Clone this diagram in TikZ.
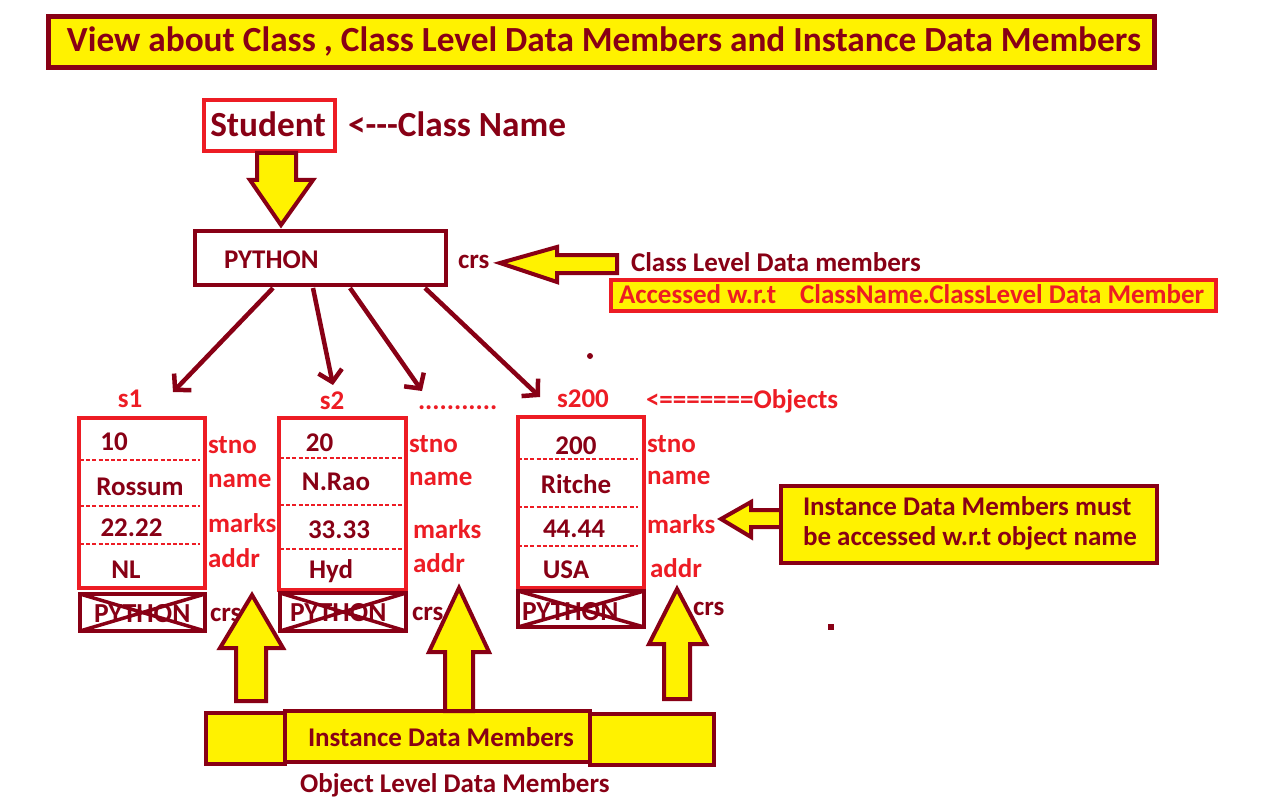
\documentclass[tikz,border=0pt]{standalone}
\usepackage{fontspec}
\setmainfont{Carlito}
\usetikzlibrary{arrows.meta}
\definecolor{dred}{RGB}{136,0,21}
\definecolor{pred}{RGB}{237,28,36}
\definecolor{pyel}{RGB}{255,242,0}
\begin{document}
\begin{tikzpicture}[x=1pt,y=-1pt,
  every node/.style={inner sep=0pt,outer sep=0pt},
  lbl/.style={font=\bfseries\fontsize{27}{30}\selectfont,text=dred,anchor=base west},
  rlbl/.style={lbl,text=pred},
  biglbl/.style={lbl,font=\bfseries\fontsize{35.3}{40}\selectfont},
  xlbl/.style={lbl,font=\bfseries\fontsize{27.5}{30}\selectfont},
  rbox/.style={draw=pred,line width=4pt},
  dbox/.style={draw=dred,line width=4pt},
  ybox/.style={dbox,fill=pyel},
  blockarrow/.style={draw=dred,line width=4pt,fill=pyel,line join=miter},
  link/.style={draw=dred,line width=4.5pt,-{Straight Barb[length=11pt,width=24pt]}},
  sepline/.style={draw=pred,line width=2.8pt,dash pattern=on 4pt off 2.2pt},
  crossline/.style={draw=dred,line width=3.5pt},
]
\useasboundingbox[fill=white] (0,0) rectangle (1271,805);

% title
\node[ybox,line width=5pt,minimum width=1106pt,minimum height=51pt] (title) at (601.5,42) {};
\node[biglbl,anchor=base] (titletxt) at (604,52) {View about Class , Class Level Data Members and Instance Data Members};

% class name
\node[rbox,minimum width=131pt,minimum height=51pt] (student) at (269.5,125.5) {};
\node[biglbl,anchor=base] (studenttxt) at (268,137) {Student};
\node[biglbl] (cname) at (348,137) {<{-}{-}{-}Class Name};

\draw[blockarrow] (257,153) -- (296,153) -- (296,180) -- (313,180) -- (281,225) -- (250,180) -- (257,180) -- cycle;

% class level box
\node[dbox,minimum width=251pt,minimum height=54pt] (pybox) at (320.5,258) {};
\node[lbl] (pytxt) at (224,268) {PYTHON};
\node[lbl] (crs0) at (458,268) {crs};
\draw[blockarrow] (617,255) -- (557,255) -- (557,247) -- (500,263) -- (557,282) -- (557,273) -- (617,273) -- cycle;
\node[lbl] (cldm) at (631,271) {Class Level Data members};
\node[rbox,fill=pyel,minimum width=605pt,minimum height=31pt] (acc) at (913.5,295.5) {};
\node[rlbl] (acctxt) at (619,303) {Accessed w.r.t\hspace{24pt}ClassName.ClassLevel Data Member};

% links to objects
\coordinate (a1s) at (273,288); \coordinate (a1e) at (173,392);
\coordinate (a2s) at (313,288); \coordinate (a2e) at (333,385);
\coordinate (a3s) at (350,288); \coordinate (a3e) at (422,391);
\coordinate (a4s) at (425,288); \coordinate (a4e) at (540,397);
\draw[link] (a1s) -- (a1e);
\draw[link] (a2s) -- (a2e);
\draw[link] (a3s) -- (a3e);
\draw[link] (a4s) -- (a4e);

\node[rlbl,anchor=base] (s1) at (130,407) {s1};
\node[rlbl,anchor=base] (s2) at (332,409) {s2};
\node[rlbl] (dots) at (418,409) {...........};
\node[rlbl,anchor=base] (s200) at (583,407) {s200};
\node[rlbl] (objs) at (646,408) {<=======Objects};

% object 1
\node[rbox,minimum width=126pt,minimum height=170pt] (o1) at (142,503) {};
\draw[sepline] (80,460) -- (200,460);
\draw[sepline] (80,506) -- (200,506);
\draw[sepline] (80,544) -- (200,544);
\node[lbl,anchor=base] (v11) at (114,450) {10};
\node[lbl,anchor=base] (v12) at (140,495) {Rossum};
\node[lbl,anchor=base] (v13) at (131.5,536) {22.22};
\node[lbl,anchor=base] (v14) at (126,578) {NL};
\node[rlbl] (l11) at (208,453) {stno};
\node[rlbl] (l12) at (208,487) {name};
\node[rlbl] (l13) at (208,532) {marks};
\node[rlbl] (l14) at (208,567) {addr};
\node[xlbl] (x1txt) at (94,622) {PYTHON};
\node[dbox,minimum width=125pt,minimum height=37pt] (c1) at (142.5,612.5) {};
\draw[crossline] (c1.north west) -- (c1.south east) (c1.south west) -- (c1.north east);
\node[lbl] (crs1) at (210,621) {crs};

% object 2
\node[rbox,minimum width=127pt,minimum height=172pt] (o2) at (342.5,504) {};
\draw[sepline] (280,458) -- (405,458);
\draw[sepline] (280,505) -- (405,505);
\draw[sepline] (280,549) -- (405,549);
\node[lbl,anchor=base] (v21) at (319.5,451) {20};
\node[lbl,anchor=base] (v22) at (336,490) {N.Rao};
\node[lbl,anchor=base] (v23) at (339,538) {33.33};
\node[lbl,anchor=base] (v24) at (331,578) {Hyd};
\node[rlbl] (l21) at (409,452) {stno};
\node[rlbl] (l22) at (409,485) {name};
\node[rlbl] (l23) at (413,538) {marks};
\node[rlbl] (l24) at (413,572) {addr};
\node[xlbl] (x2txt) at (290,621) {PYTHON};
\node[dbox,minimum width=126pt,minimum height=38pt] (c2) at (343,612) {};
\draw[crossline] (c2.north west) -- (c2.south east) (c2.south west) -- (c2.north east);
\node[lbl] (crs2) at (412,620) {crs};

% object 3
\node[rbox,minimum width=126pt,minimum height=171pt] (o3) at (581,502.5) {};
\draw[sepline] (518,459) -- (638,459);
\draw[sepline] (518,507) -- (638,507);
\draw[sepline] (518,546) -- (638,546);
\node[lbl,anchor=base] (v31) at (576,454) {200};
\node[lbl,anchor=base] (v32) at (576,493) {Ritche};
\node[lbl,anchor=base] (v33) at (574,537) {44.44};
\node[lbl,anchor=base] (v34) at (566,578) {USA};
\node[rlbl] (l31) at (647,452) {stno};
\node[rlbl] (l32) at (647,484) {name};
\node[rlbl] (l33) at (647,533) {marks};
\node[rlbl] (l34) at (650,577) {addr};
\node[xlbl] (x3txt) at (522,620) {PYTHON};
\node[dbox,minimum width=126pt,minimum height=36pt] (c3) at (581,609) {};
\draw[crossline] (c3.north west) -- (c3.south east) (c3.south west) -- (c3.north east);
\node[lbl] (crs3) at (693,615) {crs};

% instance note
\draw[blockarrow] (781,510) -- (751,510) -- (751,502) -- (721,519) -- (751,537) -- (751,527) -- (781,527) -- cycle;
\node[ybox,minimum width=376pt,minimum height=77pt] (idm) at (969,524.5) {};
\node[lbl] (idm1) at (803,515) {Instance Data Members must};
\node[lbl] (idm2) at (803,545) {be accessed w.r.t object name};

% bottom bar
\node[ybox,minimum width=79pt,minimum height=51pt] (bl) at (245.5,738.5) {};
\node[ybox,minimum width=124pt,minimum height=51pt] (br) at (652,739.5) {};
\node[ybox,minimum width=305pt,minimum height=51pt] (bm) at (437.5,736.5) {};
\node[lbl] (bmtxt) at (308,746) {Instance Data Members};
\node[lbl] (oldm) at (300,792) {Object Level Data Members};

% up arrows
\draw[blockarrow] (236,701) -- (236,648) -- (220,648) -- (252,595) -- (283,648) -- (266,648) -- (266,701) -- cycle;
\draw[blockarrow] (445,711) -- (445,652) -- (429,652) -- (459,588) -- (489,652) -- (473,652) -- (473,711) -- cycle;
\draw[blockarrow] (664,699) -- (664,644) -- (649,644) -- (677,589) -- (706,644) -- (690,644) -- (690,699) -- cycle;

% stray dots
\fill[dred] (590,356) circle[radius=3pt];
\fill[dred] (828,624) rectangle (834,630);
\end{tikzpicture}
\end{document}
